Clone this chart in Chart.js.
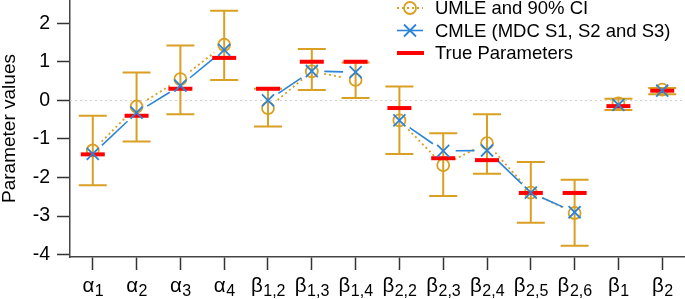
<!DOCTYPE html>
<html>
<head>
<meta charset="utf-8">
<script src="https://cdn.jsdelivr.net/npm/chart.js@4.4.1/dist/chart.umd.min.js"></script>
<style>
  html, body { margin: 0; padding: 0; background: #fff; }
  #wrap { width: 685px; height: 299px; }
</style>
</head>
<body>
<div id="wrap"><canvas id="paramChart" width="685" height="299"></canvas></div>
<script>
// Parameter labels (main symbol + subscript)
const labelMain = ["α", "α", "α", "α", "β", "β", "β", "β", "β", "β", "β", "β", "β", "β"];
const labelSub = ["1", "2", "3", "4", "1,2", "1,3", "1,4", "2,2", "2,3", "2,4", "2,5", "2,6", "1", "2"];
// which points get joined by a line
const groups = [1, 1, 1, 1, 2, 2, 2, 3, 3, 3, 3, 3, 4, 5];

// Estimates
const umle = [-1.30, -0.16, 0.55, 1.44, -0.20, 0.75, 0.53, -0.52, -1.68, -1.11, -2.39, -2.92, -0.08, 0.28];
const cmle = [-1.39, -0.32, 0.38, 1.31, 0.00, 0.76, 0.73, -0.52, -1.31, -1.30, -2.39, -2.90, -0.12, 0.25];
const truth = [-1.4, -0.4, 0.3, 1.1, 0.3, 1.0, 1.0, -0.2, -1.5, -1.55, -2.4, -2.4, -0.15, 0.25];
const ciLow = [-2.20, -1.07, -0.36, 0.53, -0.68, 0.27, 0.06, -1.39, -2.48, -1.90, -3.17, -3.77, -0.25, 0.16];
const ciHigh = [-0.40, 0.72, 1.42, 2.32, 0.30, 1.33, 0.98, 0.36, -0.85, -0.36, -1.60, -2.06, 0.04, 0.32];

const yTicks = [-4, -3, -2, -1, 0, 1, 2];
const legendLabels = ["UMLE and 90% CI", "CMLE (MDC S1, S2 and S3)", "True Parameters"];

const orange = "#d9a023";
const blue = "#2b84d9";
const red = "#ff0000";
const fontFam = "'Liberation Sans', Arial, sans-serif";

const ctx = document.getElementById("paramChart");

function toPoints(arr) {
  return arr.map((v, i) => ({ x: i, y: v }));
}

// draws the zero line, CI bars, the gapped connecting lines, legend and x labels
const extrasPlugin = {
  id: "extras",
  beforeDatasetsDraw(chart) {
    const c = chart.ctx;
    const xs = chart.scales.x;
    const ys = chart.scales.y;
    const area = chart.chartArea;
    c.save();

    // dotted zero line
    const y0 = Math.round(ys.getPixelForValue(0)) + 0.5;
    c.strokeStyle = "#d0d0d0";
    c.lineWidth = 1;
    c.setLineDash([2, 3]);
    c.beginPath();
    c.moveTo(area.left, y0);
    c.lineTo(area.right, y0);
    c.stroke();

    // confidence intervals
    c.setLineDash([]);
    c.strokeStyle = orange;
    c.lineWidth = 2;
    for (let i = 0; i < ciLow.length; i++) {
      const px = xs.getPixelForValue(i);
      const lo = ys.getPixelForValue(ciLow[i]);
      const hi = ys.getPixelForValue(ciHigh[i]);
      c.beginPath();
      c.moveTo(px, lo); c.lineTo(px, hi);
      c.moveTo(px - 14, lo); c.lineTo(px + 14, lo);
      c.moveTo(px - 14, hi); c.lineTo(px + 14, hi);
      c.stroke();
    }

    // joined lines with a gap around each point (like R type="b")
    const gap = 12.5;
    const styles = [
      { idx: 0, color: orange, dash: [2, 3], width: 1.8 },
      { idx: 2, color: blue, dash: [], width: 1.6 }
    ];
    for (const s of styles) {
      const meta = chart.getDatasetMeta(s.idx);
      c.strokeStyle = s.color;
      c.lineWidth = s.width;
      c.setLineDash(s.dash);
      for (let i = 0; i < meta.data.length - 1; i++) {
        if (groups[i] !== groups[i + 1]) continue;
        const p = meta.data[i], q = meta.data[i + 1];
        const dx = q.x - p.x, dy = q.y - p.y;
        const len = Math.sqrt(dx * dx + dy * dy);
        if (len <= 2 * gap) continue;
        const ux = dx / len, uy = dy / len;
        c.beginPath();
        c.moveTo(p.x + ux * gap, p.y + uy * gap);
        c.lineTo(q.x - ux * gap, q.y - uy * gap);
        c.stroke();
      }
    }
    c.restore();
  },
  afterDraw(chart) {
    const c = chart.ctx;
    const xs = chart.scales.x;
    c.save();
    c.fillStyle = "#000";

    // x tick labels with subscripts
    c.textBaseline = "alphabetic";
    c.textAlign = "left";
    for (let i = 0; i < labelMain.length; i++) {
      const px = xs.getPixelForValue(i);
      c.font = "20.5px " + fontFam;
      const wm = c.measureText(labelMain[i]).width;
      c.font = "16px " + fontFam;
      const ws = c.measureText(labelSub[i]).width;
      const start = px - (wm + ws) / 2;
      c.font = "20.5px " + fontFam;
      c.fillText(labelMain[i], start, 291.5);
      c.font = "16px " + fontFam;
      c.fillText(labelSub[i], start + wm + 0.5, 295.5);
    }

    // legend
    const lx0 = 397, lx1 = 423, mx = 410, tx = 435;
    const rows = [8, 30.5, 53];
    c.font = "18.5px " + fontFam;
    c.textBaseline = "middle";
    // UMLE
    c.strokeStyle = orange;
    c.lineWidth = 1.8;
    c.setLineDash([2, 3]);
    c.beginPath(); c.moveTo(lx0, rows[0]); c.lineTo(lx1, rows[0]); c.stroke();
    c.setLineDash([]);
    c.beginPath(); c.arc(mx, rows[0], 6, 0, Math.PI * 2); c.stroke();
    // CMLE
    c.strokeStyle = blue;
    c.lineWidth = 1.6;
    c.beginPath(); c.moveTo(lx0, rows[1]); c.lineTo(lx1, rows[1]); c.stroke();
    c.lineWidth = 1.8;
    c.beginPath();
    c.moveTo(mx - 6, rows[1] - 6); c.lineTo(mx + 6, rows[1] + 6);
    c.moveTo(mx - 6, rows[1] + 6); c.lineTo(mx + 6, rows[1] - 6);
    c.stroke();
    // truth
    c.strokeStyle = red;
    c.lineWidth = 4;
    c.beginPath(); c.moveTo(lx0, rows[2]); c.lineTo(lx1 + 1, rows[2]); c.stroke();

    for (let k = 0; k < legendLabels.length; k++) {
      c.fillText(legendLabels[k], tx, rows[k] + 1);
    }
    c.restore();
  }
};

new Chart(ctx, {
  type: "scatter",
  data: {
    datasets: [
      {
        label: legendLabels[0],
        data: toPoints(umle),
        pointStyle: "circle",
        pointRadius: 6,
        borderColor: orange,
        backgroundColor: "rgba(0,0,0,0)",
        borderWidth: 1.8,
        order: 3
      },
      {
        label: legendLabels[2],
        data: toPoints(truth),
        pointStyle: "line",
        pointRadius: 12,
        borderColor: red,
        borderWidth: 4,
        order: 2
      },
      {
        label: legendLabels[1],
        data: toPoints(cmle),
        pointStyle: "crossRot",
        pointRadius: 8.5,
        borderColor: blue,
        borderWidth: 1.8,
        order: 1
      }
    ]
  },
  options: {
    responsive: false,
    animation: false,
    layout: { padding: 0, autoPadding: false },
    plugins: {
      legend: { display: false },
      tooltip: { enabled: false }
    },
    scales: {
      x: {
        type: "linear",
        min: -0.52,
        max: 13.52,
        afterBuildTicks: (s) => { s.ticks = labelMain.map((_, i) => ({ value: i })); },
        afterFit: (s) => { s.height = 42; s.paddingLeft = 0; s.paddingRight = 0; },
        ticks: { display: false },
        grid: { drawOnChartArea: false, tickLength: 13, tickColor: "#333", tickWidth: 1.5 },
        border: { color: "#444", width: 1.5 }
      },
      y: {
        min: -4.06,
        max: 2.6,
        afterBuildTicks: (s) => { s.ticks = yTicks.map(v => ({ value: v })); },
        afterFit: (s) => { s.width = 70; s.paddingTop = 0; s.paddingBottom = 0; },
        ticks: {
          color: "#000",
          padding: 7,
          font: { family: fontFam, size: 19.5 },
          callback: (v) => String(v)
        },
        grid: { drawOnChartArea: false, tickLength: 13, tickColor: "#333", tickWidth: 1.5 },
        border: { color: "#444", width: 1.5 },
        title: {
          display: true,
          text: "Parameter values",
          color: "#000",
          padding: 0,
          font: { family: fontFam, size: 19, lineHeight: 1 }
        }
      }
    }
  },
  plugins: [extrasPlugin]
});
</script>
</body>
</html>
